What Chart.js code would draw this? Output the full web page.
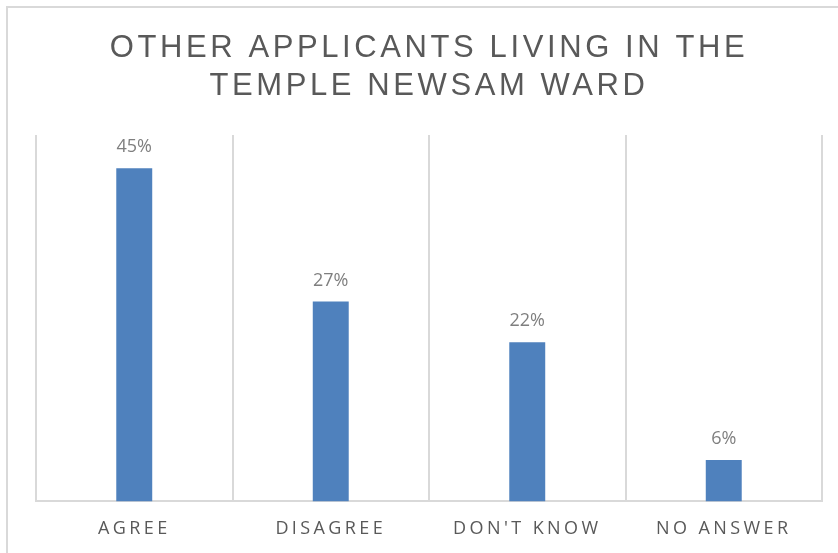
<!DOCTYPE html>
<html>
<head>
<meta charset="utf-8">
<script src="https://cdn.jsdelivr.net/npm/chart.js@4"></script>
<style>
    html, body { margin: 0; padding: 0; background: #ffffff; }
    #wrap { position: relative; width: 838px; height: 553px; overflow: hidden; }
    #frame {
        position: absolute; left: 6px; top: 6px; width: 900px; height: 600px;
        border-top: 2px solid #d9d9d9; border-left: 2px solid #d9d9d9;
    }
    #chart { position: absolute; left: 0; top: 0; }
</style>
</head>
<body>
<div id="wrap">
    <div id="frame"></div>
    <canvas id="chart" width="838" height="553"></canvas>
</div>
<script>
const titleLines = ['OTHER APPLICANTS LIVING IN THE', 'TEMPLE NEWSAM WARD'];
const categories = ['AGREE', 'DISAGREE', "DON'T KNOW", 'NO ANSWER'];
const percentages = [45.0, 27.0, 21.5, 5.6];

// draws the "45%" style labels above each bar
const barLabels = {
    id: 'barLabels',
    afterDatasetsDraw(chart) {
        const ctx = chart.ctx;
        const meta = chart.getDatasetMeta(0);
        ctx.save();
        ctx.letterSpacing = '0px';
        ctx.font = '18px "Open Sans"';
        ctx.fillStyle = '#7f7f7f';
        ctx.textAlign = 'center';
        ctx.textBaseline = 'middle';
        meta.data.forEach((bar, i) => {
            ctx.fillText(Math.round(percentages[i]) + '%', bar.x, bar.y - 21);
        });
        ctx.restore();
        // axis labels are drawn after the datasets (ticks.z = 1)
        ctx.letterSpacing = '3.4px';
    }
};

// wide letter spacing for the title
const letterSpacing = {
    id: 'letterSpacing',
    beforeDraw(chart) { chart.ctx.letterSpacing = '3.6px'; },
    afterDraw(chart) { chart.ctx.letterSpacing = '0px'; }
};

new Chart(document.getElementById('chart'), {
    type: 'bar',
    data: {
        labels: categories,
        datasets: [{
            data: percentages,
            backgroundColor: '#4f81bd',
            borderWidth: 0,
            barPercentage: 0.183,
            categoryPercentage: 1
        }]
    },
    options: {
        responsive: false,
        animation: false,
        layout: { padding: { top: 0, left: 36, right: 16, bottom: -4 } },
        scales: {
            x: {
                grid: { color: '#d9d9d9', lineWidth: 2, drawTicks: false, offset: true },
                border: { color: '#d9d9d9', width: 2 },
                ticks: { color: '#595959', font: { family: 'Open Sans', size: 18 }, padding: 17, z: 1 }
            },
            y: { display: false, min: 0, max: 49.5 }
        },
        plugins: {
            legend: { display: false },
            tooltip: { enabled: false },
            title: {
                display: true,
                text: titleLines,
                color: '#595959',
                font: { family: '"Liberation Sans", Arial', size: 31, weight: 'normal', lineHeight: 38 / 31 },
                padding: { top: 29, bottom: 30 }
            }
        }
    },
    plugins: [barLabels, letterSpacing]
});
</script>
</body>
</html>
